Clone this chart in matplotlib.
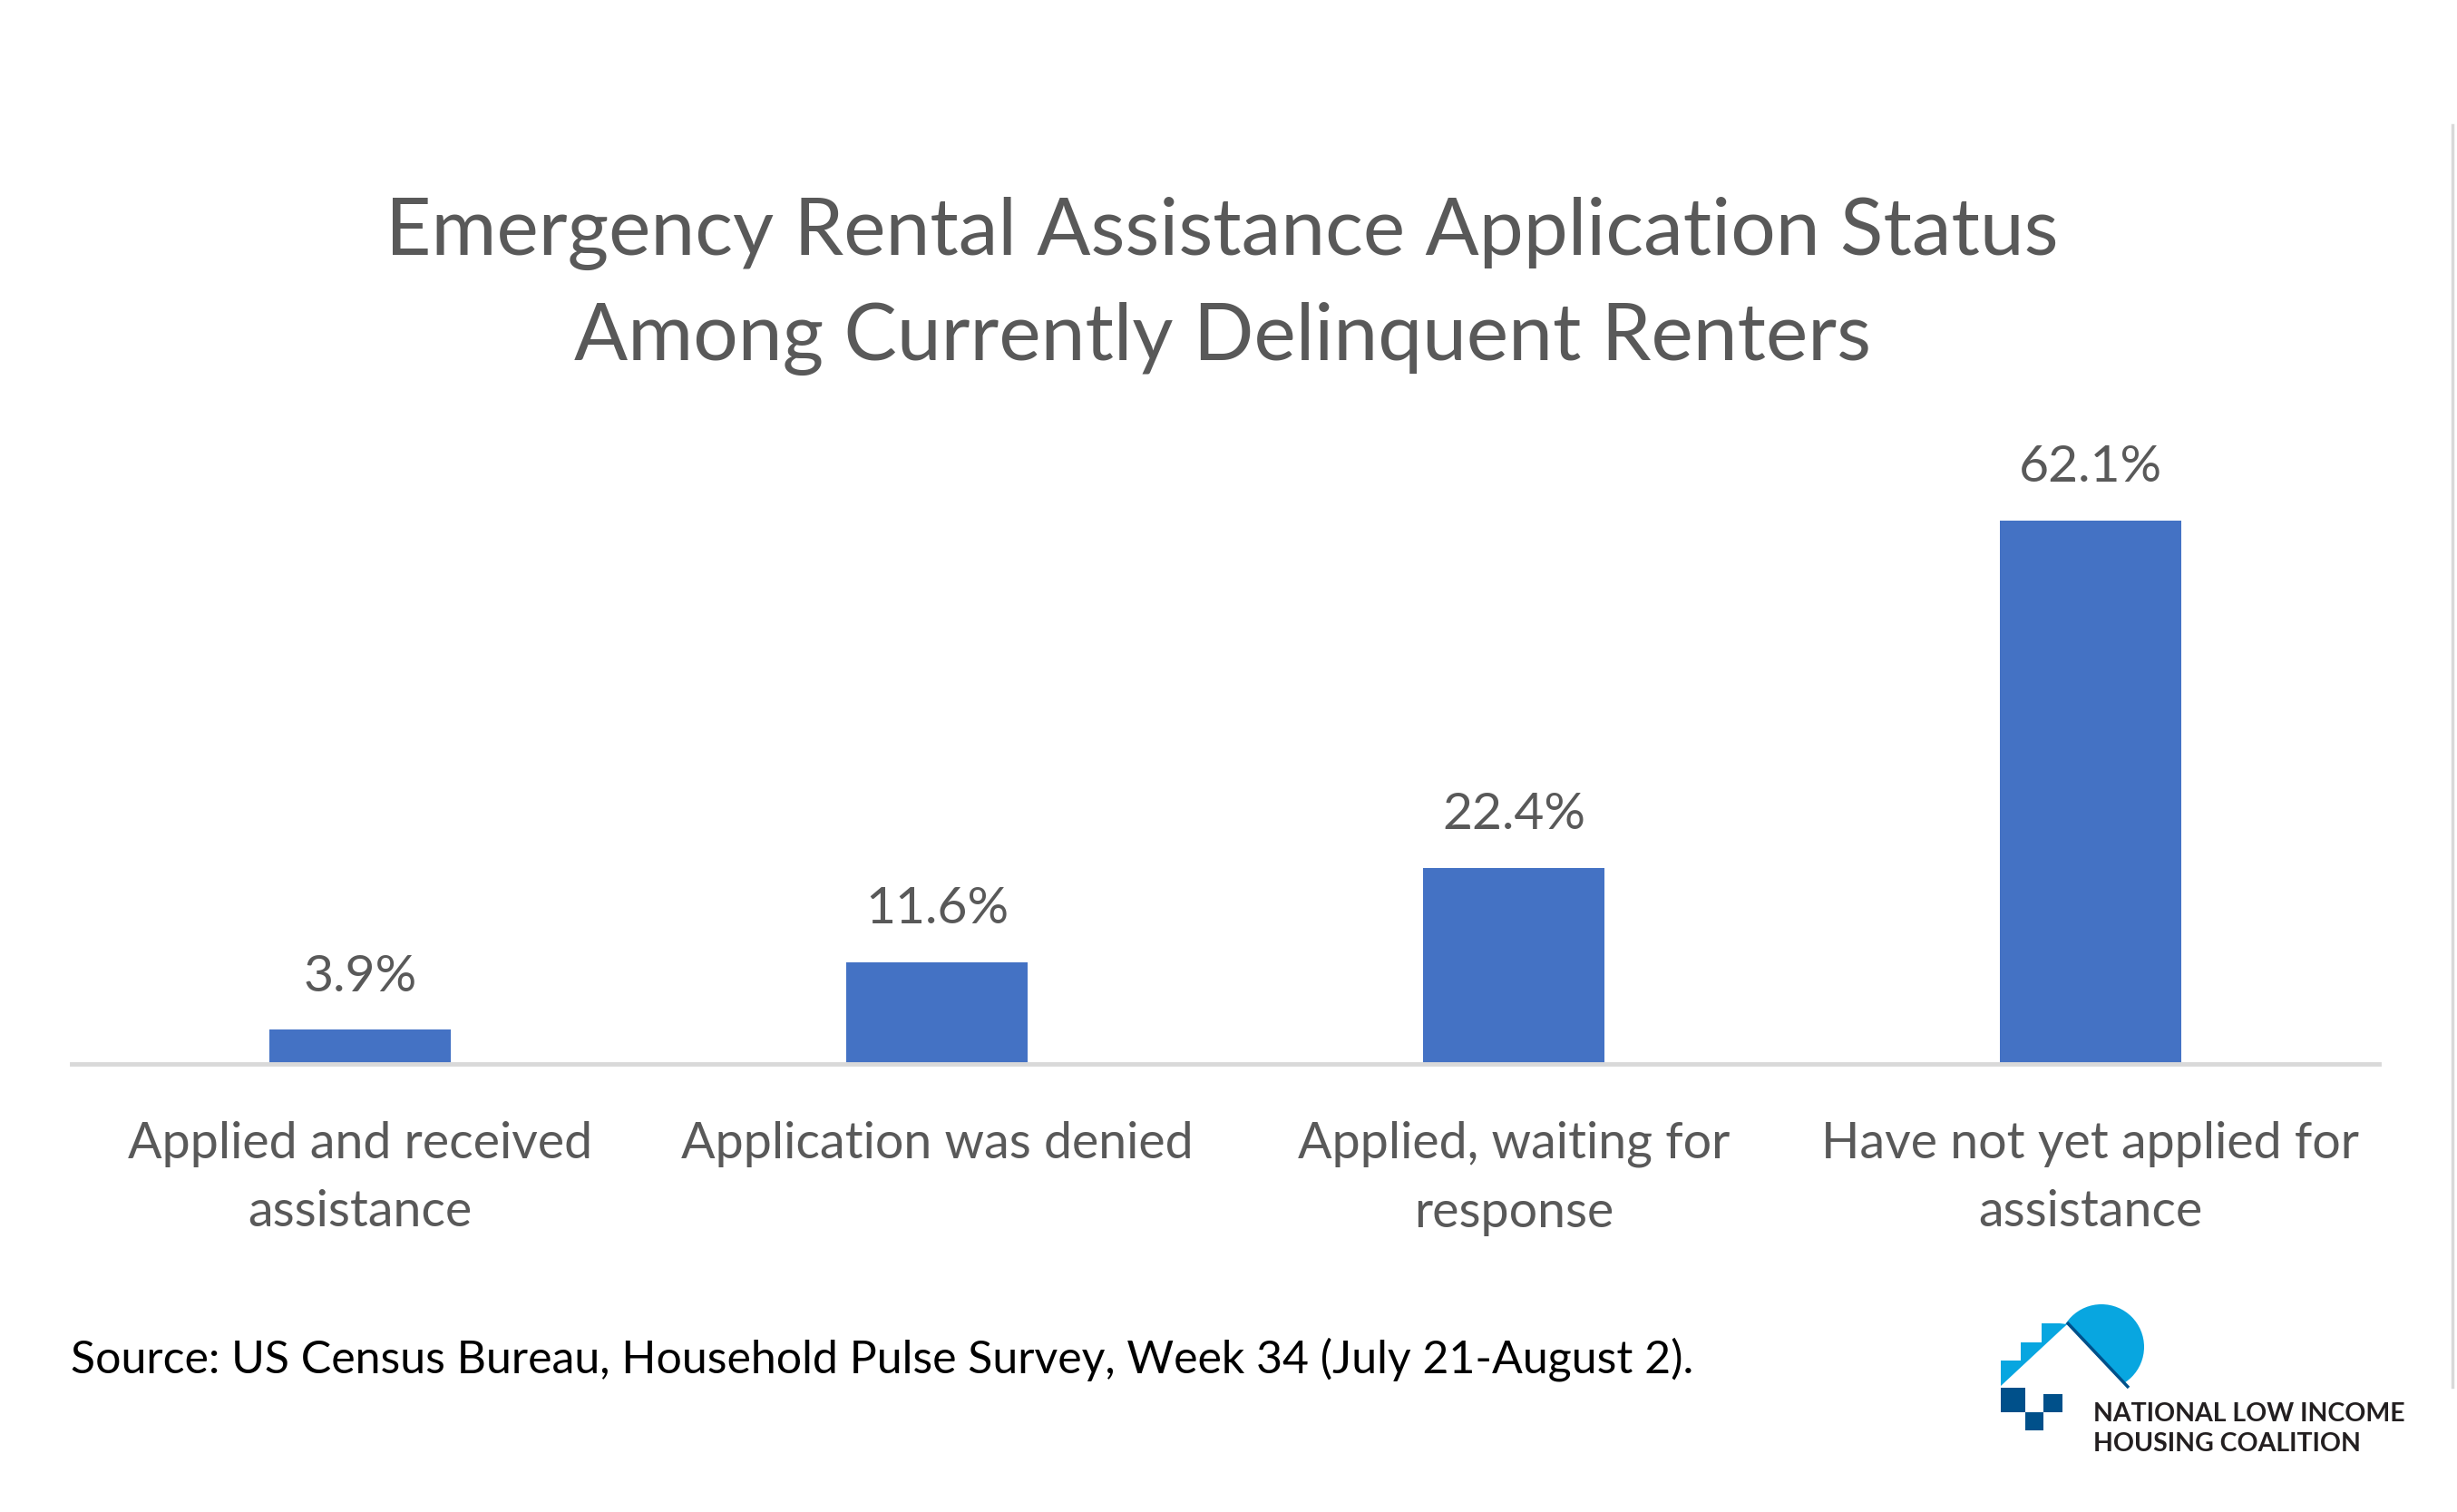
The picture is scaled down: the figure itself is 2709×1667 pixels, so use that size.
import matplotlib.pyplot as plt
from matplotlib.patches import Circle, Polygon, Rectangle

# Chart data
categories = ['Applied and received\nassistance', 'Application was denied',
              'Applied, waiting for\nresponse', 'Have not yet applied for\nassistance']
values = [3.9, 11.6, 22.4, 62.1]
labels = ['3.9%', '11.6%', '22.4%', '62.1%']

title1 = 'Emergency Rental Assistance Application Status'
title2 = 'Among Currently Delinquent Renters'
source = 'Source: US Census Bureau, Household Pulse Survey, Week 34 (July 21-August 2).'

plt.rcParams['font.family'] = ['Lato', 'DejaVu Sans']
grey = '#595959'
W, H = 2709, 1667

fig = plt.figure(figsize=(W / 100, H / 100), dpi=100)
ax = fig.add_axes([79 / W, 494 / H, 2544 / W, 675 / H])

x = range(len(categories))
bars = ax.bar(x, values, width=0.315, color='#4472C4', zorder=2)
for b, lab in zip(bars, labels):
    ax.annotate(lab, (b.get_x() + b.get_width() / 2, b.get_height()),
                xytext=(0, 42), textcoords='offset points',
                ha='center', va='center', fontsize=41, color=grey)

ax.set_xlim(-0.5, 3.5)
ax.set_ylim(0, 70)
ax.set_xticks(list(x))
ax.set_xticklabels(categories, fontsize=40, color=grey, linespacing=1.6)
ax.tick_params(axis='x', length=0, pad=45)
ax.set_yticks([])
for s in ['top', 'left', 'right']:
    ax.spines[s].set_visible(False)
ax.spines['bottom'].set_color('#D9D9D9')
ax.spines['bottom'].set_linewidth(3.5)

fig.text(0.4975, 1 - 257 / H, title1, ha='center', va='center', fontsize=63, color=grey)
fig.text(0.4975, 1 - 373 / H, title2, ha='center', va='center', fontsize=63, color=grey)
fig.text(78 / W, 1 - 1499 / H, source, ha='left', va='center', fontsize=36, color='black')

# overlay in pixel coordinates for the border line and logo
ov = fig.add_axes([0, 0, 1, 1], zorder=-1)
ov.set_xlim(0, W)
ov.set_ylim(H, 0)
ov.axis('off')
ov.plot([2704, 2704], [138, 1529], color='#D9D9D9', lw=2.5)

light = '#08A6E0'
dark = '#00508A'
ov.add_patch(Circle((2317, 1485), 47, color=light, lw=0))
ov.add_patch(Polygon([(2200, 1529), (2279, 1460), (2352, 1537), (2352, 1560), (2200, 1560)],
                     closed=True, color='white', lw=0))
ov.add_patch(Polygon([(2206, 1528), (2206, 1500), (2228, 1500), (2228, 1480), (2251, 1480),
                      (2251, 1459), (2271, 1459), (2279, 1460)], closed=True, color=light, lw=0))
ov.plot([2279, 2347], [1458, 1530], color=dark, lw=2.5, solid_capstyle='butt')
ov.add_patch(Rectangle((2206, 1530), 27, 27, color=dark, lw=0))
ov.add_patch(Rectangle((2233, 1557), 20, 20, color=dark, lw=0))
ov.add_patch(Rectangle((2253, 1537), 21, 20, color=dark, lw=0))
ov.text(2308, 1559, 'NATIONAL LOW INCOME', fontsize=20.5, fontweight='bold', color='#231F20',
        ha='left', va='center')
ov.text(2308, 1592, 'HOUSING COALITION', fontsize=20.5, fontweight='bold', color='#231F20',
        ha='left', va='center')

fig.savefig('out.png', dpi=100)
